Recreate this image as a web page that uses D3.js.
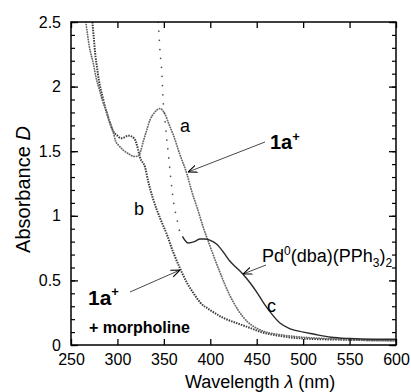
<!DOCTYPE html>
<html>
<head>
<meta charset="utf-8">
<script src="https://cdn.jsdelivr.net/npm/d3@7"></script>
<style>
  body { margin: 0; background: #fff; }
  svg text { font-family: "Liberation Sans", Arial, sans-serif; fill: #000; }
</style>
</head>
<body>
<div id="chart"></div>
<script>
// wavelength (nm) / absorbance
const waveA = [266, 270, 274, 277, 280, 284, 288, 291, 295, 298, 302, 306, 312, 318, 322, 325, 328, 331, 335, 340, 346, 351, 356, 360, 367, 375, 380, 386, 392, 400, 410, 420, 430, 440, 450, 460, 475, 500, 525, 550, 575, 600];
const absA  = [2.50, 2.30, 2.18, 2.07, 1.99, 1.89, 1.81, 1.74, 1.66, 1.58, 1.54, 1.51, 1.48, 1.46, 1.46, 1.50, 1.58, 1.65, 1.74, 1.80, 1.83, 1.79, 1.70, 1.63, 1.48, 1.32, 1.19, 1.06, 0.92, 0.76, 0.57, 0.40, 0.27, 0.18, 0.13, 0.10, 0.08, 0.06, 0.05, 0.04, 0.035, 0.035];

const waveB = [273, 275, 276, 278, 280, 284, 288, 291, 295, 300, 304, 312, 318, 322, 324, 330, 333, 338, 346, 353, 360, 367, 375, 382, 389, 400, 414, 428, 440, 455, 475, 500, 550, 600];
const absB  = [2.50, 2.34, 2.26, 2.15, 2.05, 1.92, 1.81, 1.74, 1.66, 1.62, 1.60, 1.62, 1.60, 1.52, 1.46, 1.37, 1.27, 1.14, 0.98, 0.86, 0.72, 0.60, 0.48, 0.40, 0.33, 0.27, 0.21, 0.17, 0.14, 0.10, 0.07, 0.05, 0.04, 0.035];

// Pd0(dba)(PPh3)2 : steep sparse part, then the solid part
const waveCsteep = [344, 346, 348, 349, 351, 353, 355, 357, 359, 361, 364, 367, 370];
const absCsteep  = [2.50, 2.26, 2.09, 1.92, 1.76, 1.60, 1.47, 1.32, 1.19, 1.08, 0.98, 0.88, 0.84];
const waveC = [370, 376, 383, 389, 394, 400, 407, 414, 421, 428, 435, 443, 450, 457, 464, 475, 486, 500, 511, 530, 550, 575, 600];
const absC  = [0.84, 0.79, 0.80, 0.82, 0.82, 0.81, 0.78, 0.72, 0.65, 0.60, 0.55, 0.48, 0.41, 0.33, 0.26, 0.17, 0.125, 0.10, 0.085, 0.06, 0.05, 0.045, 0.045];

const xTicks = [250, 300, 350, 400, 450, 500, 550, 600];
const yTicks = [0, 0.5, 1, 1.5, 2, 2.5];
const yTickLabels = ["0", "0.5", "1", "1.5", "2", "2.5"];
const yMinor = d3.range(0, 2.51, 0.1);

const W = 411, H = 392;
const margin = {top: 22, right: 15, bottom: 47, left: 71};

const svg = d3.select("#chart").append("svg")
  .attr("width", W)
  .attr("height", H);

const x = d3.scaleLinear().domain([250, 600]).range([margin.left, W - margin.right]);
const y = d3.scaleLinear().domain([0, 2.5]).range([H - margin.bottom, margin.top]);

svg.append("clipPath").attr("id", "plot")
  .append("rect")
  .attr("x", x(250)).attr("y", y(2.5))
  .attr("width", x(600) - x(250)).attr("height", y(0) - y(2.5));

const line = d3.line()
  .x(d => x(d[0]))
  .y(d => y(d[1]))
  .curve(d3.curveMonotoneX);

const zip = (a, b) => a.map((v, i) => [v, b[i]]);

const g = svg.append("g").attr("clip-path", "url(#plot)");

// b : 1a+ + morpholine (squares)
g.append("path")
  .datum(zip(waveB, absB))
  .attr("fill", "none")
  .attr("stroke", "#3c3c3c")
  .attr("stroke-width", 2)
  .attr("stroke-dasharray", "1.5 1.1")
  .attr("d", line);

// a : 1a+ (circles)
g.append("path")
  .datum(zip(waveA, absA))
  .attr("fill", "none")
  .attr("stroke", "#6a6a6a")
  .attr("stroke-width", 1.8)
  .attr("stroke-linecap", "round")
  .attr("stroke-dasharray", "0.2 2.3")
  .attr("d", line);

// c : Pd0(dba)(PPh3)2
g.append("path")
  .datum(zip(waveCsteep, absCsteep))
  .attr("fill", "none")
  .attr("stroke", "#555")
  .attr("stroke-width", 1.7)
  .attr("stroke-linecap", "round")
  .attr("stroke-dasharray", "0.1 9")
  .attr("d", line);

g.append("path")
  .datum(zip(waveC, absC))
  .attr("fill", "none")
  .attr("stroke", "#2a2a2a")
  .attr("stroke-width", 1.4)
  .attr("d", line);

// axes, ticks pointing inward
const tickFont = g => g.selectAll("text")
  .style("font-family", "'Liberation Sans', Arial, sans-serif")
  .style("font-size", "16px")
  .attr("fill", "#000");

svg.append("g")
  .attr("transform", "translate(0," + y(0) + ")")
  .call(d3.axisBottom(x).tickValues(xTicks).tickSize(-6).tickPadding(9).tickFormat(d3.format("d")))
  .call(g => g.select(".domain").remove())
  .call(g => g.selectAll("line").attr("stroke-width", 1.3))
  .call(tickFont);

svg.append("g")
  .attr("transform", "translate(0," + y(2.5) + ")")
  .call(d3.axisTop(x).tickValues(xTicks).tickSize(-6).tickFormat(""))
  .call(g => g.select(".domain").remove())
  .call(g => g.selectAll("line").attr("stroke-width", 1.3));

svg.append("g")
  .attr("transform", "translate(" + x(250) + ",0)")
  .call(d3.axisLeft(y).tickValues(yTicks).tickSize(-7).tickPadding(10)
    .tickFormat((d, i) => yTickLabels[i]))
  .call(g => g.select(".domain").remove())
  .call(g => g.selectAll("line").attr("stroke-width", 1.3))
  .call(tickFont);

svg.append("g")
  .attr("transform", "translate(" + x(250) + ",0)")
  .call(d3.axisLeft(y).tickValues(yMinor).tickSize(-4).tickFormat(""))
  .call(g => g.select(".domain").remove())
  .call(g => g.selectAll("line").attr("stroke-width", 1.2));

svg.append("g")
  .attr("transform", "translate(" + x(600) + ",0)")
  .call(d3.axisRight(y).tickValues(yTicks).tickSize(-7).tickFormat(""))
  .call(g => g.select(".domain").remove())
  .call(g => g.selectAll("line").attr("stroke-width", 1.3));

svg.append("g")
  .attr("transform", "translate(" + x(600) + ",0)")
  .call(d3.axisRight(y).tickValues(yMinor).tickSize(-4).tickFormat(""))
  .call(g => g.select(".domain").remove())
  .call(g => g.selectAll("line").attr("stroke-width", 1.2));

// frame
svg.append("rect")
  .attr("x", x(250)).attr("y", y(2.5))
  .attr("width", x(600) - x(250)).attr("height", y(0) - y(2.5))
  .attr("fill", "none")
  .attr("stroke", "#000")
  .attr("stroke-width", 1.5);

// axis titles
const xt = svg.append("text")
  .attr("x", 185).attr("y", 388)
  .style("font-size", "18px");
xt.append("tspan").text("Wavelength ");
xt.append("tspan").style("font-style", "italic").text("λ");
xt.append("tspan").text(" (nm)");

const yt = svg.append("text")
  .attr("transform", "translate(30," + ((y(0) + y(2.5)) / 2 + 6) + ") rotate(-90)")
  .attr("text-anchor", "middle")
  .style("font-size", "20px");
yt.append("tspan").text("Absorbance ");
yt.append("tspan").style("font-style", "italic").text("D");

// annotations
const arrowHead = svg.append("defs").append("marker")
  .attr("id", "arr")
  .attr("viewBox", "0 0 10 10")
  .attr("refX", 10).attr("refY", 5)
  .attr("markerWidth", 9).attr("markerHeight", 9)
  .attr("markerUnits", "userSpaceOnUse")
  .attr("orient", "auto");
arrowHead.append("path")
  .attr("d", "M0,1 L10,5 L0,9")
  .attr("fill", "none")
  .attr("stroke", "#000")
  .attr("stroke-width", 1.2);

const arrow = (x1, y1, x2, y2) => svg.append("line")
  .attr("x1", x1).attr("y1", y1).attr("x2", x2).attr("y2", y2)
  .attr("stroke", "#333").attr("stroke-width", 0.9)
  .attr("marker-end", "url(#arr)");

svg.append("text").attr("x", 180).attr("y", 132).style("font-size", "18px").text("a");
svg.append("text").attr("x", 134).attr("y", 215).style("font-size", "18px").text("b");
svg.append("text").attr("x", 267).attr("y", 312).style("font-size", "18px").text("c");

const t1 = svg.append("text").attr("x", 270).attr("y", 149)
  .style("font-size", "20px").style("font-weight", "bold");
t1.append("tspan").text("1a");
t1.append("tspan").attr("dy", -8).style("font-size", "13px").text("+");
arrow(265, 142, 188, 172);

const t2 = svg.append("text").attr("x", 88).attr("y", 305)
  .style("font-size", "21px").style("font-weight", "bold");
t2.append("tspan").text("1a");
t2.append("tspan").attr("dy", -9).style("font-size", "13px").text("+");
svg.append("text").attr("x", 89).attr("y", 333)
  .style("font-size", "16px").style("font-weight", "bold")
  .text("+ morpholine");
arrow(130, 292, 180, 270);

const t3 = svg.append("text").attr("x", 262).attr("y", 262).style("font-size", "18px");
t3.append("tspan").text("Pd");
t3.append("tspan").attr("dy", -7).style("font-size", "12px").text("0");
t3.append("tspan").attr("dy", 7).text("(dba)(PPh");
t3.append("tspan").attr("dy", 5).style("font-size", "12px").text("3");
t3.append("tspan").attr("dy", -5).text(")");
t3.append("tspan").attr("dy", 5).style("font-size", "12px").text("2");
arrow(266, 265, 243, 274);
</script>
</body>
</html>
